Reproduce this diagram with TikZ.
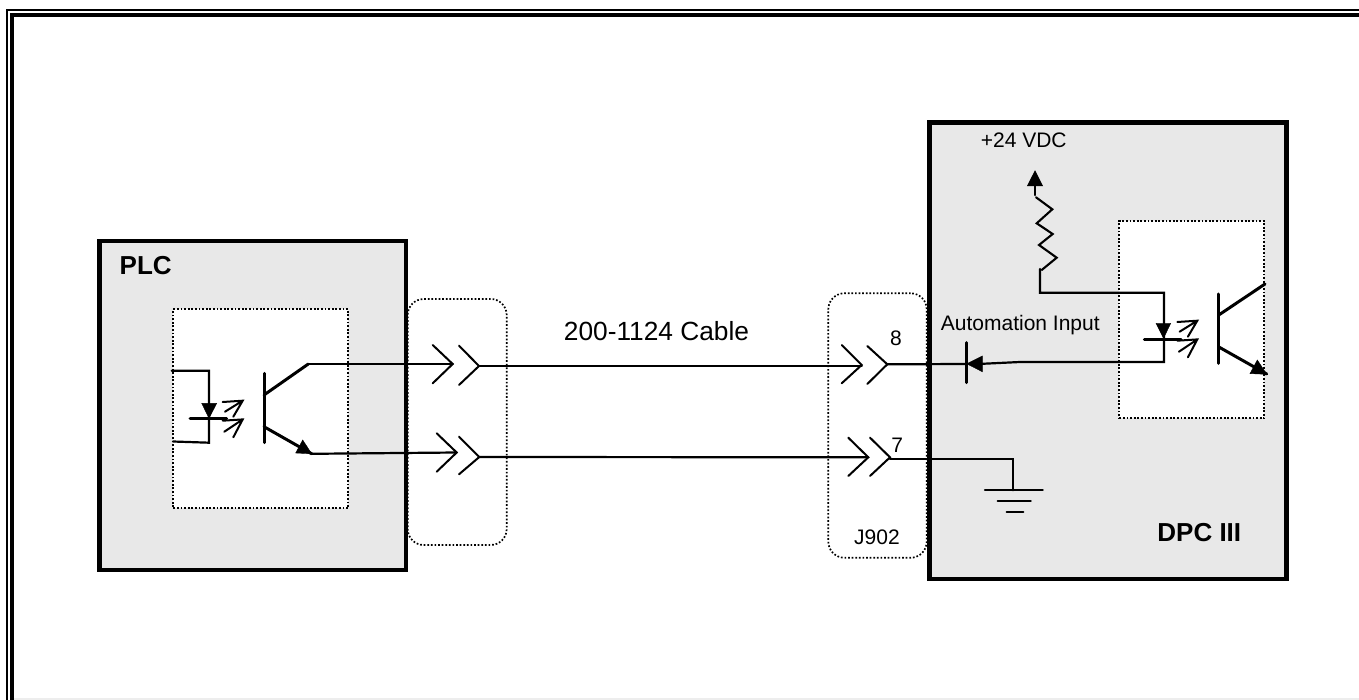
\documentclass[tikz,border=0pt]{standalone}
\usepackage{fontspec}
\setmainfont{Liberation Sans}
\definecolor{panel}{HTML}{E8E8E8}
\tikzset{
  x=1pt,y=-1pt,
  wire/.style={line width=2.2pt,line cap=round,line join=miter,black},
  heavy/.style={line width=3pt,line cap=round,black},
  chev/.style={line width=2pt,line cap=round,line join=miter,black},
  tri/.style={fill=black,draw=black,line width=0.4pt},
  panelbox/.style={draw=black,fill=panel,line width=4.4pt,line join=miter},
  opto/.style={draw=black,fill=white,line width=1.8pt,dash pattern=on 1.8pt off 1.8pt},
  conn/.style={draw=black,line width=1.7pt,dash pattern=on 1.7pt off 1.9pt,rounded corners=16pt},
  lab/.style={inner sep=0pt,anchor=center,font=\fontsize{21}{24}\selectfont},
  blab/.style={inner sep=0pt,anchor=center,font=\fontsize{26}{30}\selectfont\bfseries},
}
\newcommand{\lightarrows}[2]{%
  \begin{scope}[shift={(#1,#2)}]
    \draw[chev] (0,1.3)--(20,0)--(10.6,16) (2.3,11)--(20,0);
    \draw[chev] (0,20)--(20,18.7)--(10.6,36.6) (1.6,31)--(20,18.7);
  \end{scope}}
\begin{document}
\begin{tikzpicture}
\useasboundingbox (0,0) rectangle (1359,700);
\fill[white] (0,0) rectangle (1359,700);
% page frame: open on the right
\draw[panel!80!white,line width=2pt] (14,699) -- (1359,699);
\draw[black,line width=2pt,line join=miter] (1359,10) -- (6.5,10) -- (6.5,700);
\draw[black,line width=3.6pt,line join=miter] (1359,15) -- (12,15) -- (12,700);

% connector shells (behind the boxes)
\node[conn,minimum width=99pt,minimum height=246pt,inner sep=0pt] (shellL) at (457.2,422) {};
\node[conn,minimum width=98.4pt,minimum height=264.4pt,inner sep=0pt] (shellR) at (877.5,425.5) {};

% boxes
\node[panelbox,minimum width=306.5pt,minimum height=329pt,inner sep=0pt] (plc) at (252.8,405.5) {};
\node[panelbox,minimum width=357pt,minimum height=456.5pt,inner sep=0pt] (dpc) at (1108,350.7) {};
\node[opto,minimum width=175pt,minimum height=199pt,inner sep=0pt] (optoL) at (260.8,408.8) {};
\node[opto,minimum width=145pt,minimum height=197.3pt,inner sep=0pt] (optoR) at (1191.8,319.7) {};

% named junctions
\coordinate (cL) at (308.3,364);
\coordinate (eL) at (311.7,453.8);
\coordinate (plugLa) at (452.7,364);
\coordinate (plugLb) at (456.7,452.5);
\coordinate (sockLa) at (479,366);
\coordinate (sockLb) at (479.3,457);
\coordinate (plugRa) at (861.7,366);
\coordinate (plugRb) at (868.3,457.3);
\coordinate (sockRa) at (887.3,364.3);
\coordinate (sockRb) at (890,459.3);
\coordinate (term) at (966.7,364);
\coordinate (gnd) at (1013.3,490.3);

% left opto LED
\draw[wire] (171.7,370.7) -- (209,370.7) -- (209,442.7) -- (173,441.5);
\fill[tri] (201.7,403.3) -- (216.7,403.3) -- (209,418.3) -- cycle;
\draw[heavy] (190,418.7) -- (226.7,418.7);
\lightarrows{222.7}{400.7}
% left opto transistor
\draw[heavy] (264,373.3) -- (264,442.7);
\draw[heavy] (264,395) -- (cL);
\draw[heavy] (264,426.7) -- (eL);
\fill[tri] (311.7,453.8) -- (302.7,440) -- (295.7,453) -- cycle;

% cable
\draw[wire] (cL) -- (plugLa);
\draw[wire] (eL) -- (plugLb);
\draw[chev] (432.7,345) -- (plugLa) -- (432.7,383.3);
\draw[chev] (459,345.7) -- (sockLa) -- (459,385);
\draw[chev] (436.7,433.3) -- (plugLb) -- (436.7,471.7);
\draw[chev] (459,436.7) -- (sockLb) -- (459,474.3);
\draw[wire] (sockLa) -- (plugRa);
\draw[wire] (sockLb) -- (plugRb);
\draw[chev] (841.7,345) -- (861.7,365) -- (841.7,383.3);
\draw[chev] (867.3,346) -- (sockRa) -- (867.3,384);
\draw[chev] (848.3,437.7) -- (plugRb) -- (848.3,476);
\draw[chev] (870,437.7) -- (890,457.3) -- (870,476);

% automation input
\draw[wire] (sockRa) -- (term);
\draw[wire] (951.7,364) -- (966.7,364);
\draw[heavy] (966,342.7) -- (966,382.7);
\fill[tri] (966.7,363.8) -- (982.3,356) -- (982.3,371.7) -- cycle;
\draw[wire] (982.3,363.8) -- (1020,362) -- (1164,362) -- (1164,292.7) -- (1040,292.7) -- (1040,269);
% resistor
\draw[chev,line width=2.1pt] (1036,197.3) -- (1052.3,209.3) -- (1036.7,223.3) -- (1052.7,234) -- (1039,245) -- (1056.7,257.7) -- (1041.7,270);
\draw[wire] (1035,195) -- (1035,184);
\fill[tri] (1035,170.7) -- (1027.3,186) -- (1042.7,186) -- cycle;
% right opto LED
\fill[tri] (1156,323.3) -- (1170.7,323.3) -- (1163.5,338.3) -- cycle;
\draw[heavy] (1144.3,339.3) -- (1181,339.3);
\lightarrows{1177.3}{320.7}
% right opto transistor
\draw[heavy] (1218.3,294) -- (1218.3,363.3);
\draw[heavy] (1218.3,315.3) -- (1265,284);
\draw[heavy] (1218.3,346.7) -- (1266.7,374);
\fill[tri] (1266.7,374.3) -- (1257.3,360) -- (1250,373.6) -- cycle;

% ground
\draw[wire] (sockRb) -- (1013.3,459.3) -- (gnd);
\draw[wire] (985,490.3) -- (1042.7,490.3);
\draw[wire] (997.7,500.7) -- (1030.7,500.7);
\draw[wire] (1006.7,512.3) -- (1023.3,512.3);

% labels
\node[blab] (plcL) at (145.7,265.7) {PLC};
\node[blab] (dpcL) at (1199.3,532.5) {DPC III};
\node[lab,font=\fontsize{26.3}{30}\selectfont] (cable) at (656.5,331) {200-1124 Cable};
\node[lab] (v24) at (1023.7,140.7) {+24 VDC};
\node[lab] (auto) at (1020.3,325) {Automation Input};
\node[lab] (p8) at (896,338.7) {8};
\node[lab] (p7) at (897.3,445) {7};
\node[lab] (j902) at (877,537.3) {J902};
\end{tikzpicture}
\end{document}
